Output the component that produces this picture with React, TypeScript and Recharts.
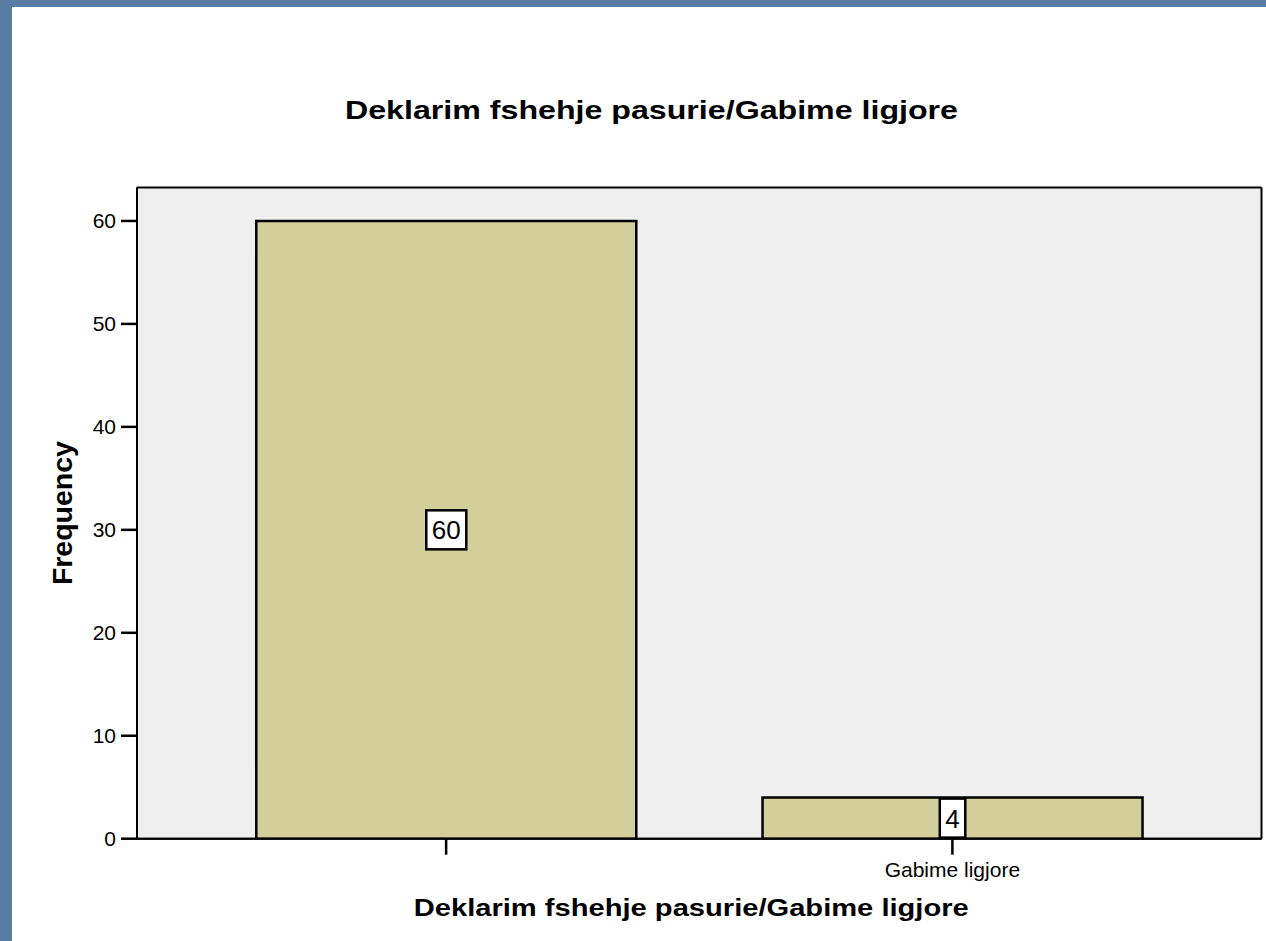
import { BarChart, Bar, XAxis, YAxis, CartesianGrid, LabelList, Label } from "recharts";

const categories = ["", "Gabime ligjore"];
const frequencies = [60, 4];
const yTicks = [0, 10, 20, 30, 40, 50, 60];
const yMax = 63.25;

const title = "Deklarim fshehje pasurie/Gabime ligjore";
const xTitle = "Deklarim fshehje pasurie/Gabime ligjore";
const yTitle = "Frequency";

const data = categories.map((name, i) => ({ name, value: frequencies[i] }));

const FONT = "'Liberation Sans', Arial, Helvetica, sans-serif";

// frame of the plot area: only its edges, taken from the chart's offset
const frameRows = ({ offset }: any) => [offset.top, offset.top + offset.height];
const frameCols = ({ offset }: any) => [offset.left, offset.left + offset.width];

function ValueBox(props: any) {
  const { x, y, width, height, value } = props;
  const cx = Number(x) + Number(width) / 2;
  const cy = Number(y) + Number(height) / 2;
  const txt = String(value);
  const w = txt.length * 14.5 + 11;
  const h = 39;
  return (
    <g>
      <rect x={cx - w / 2} y={cy - h / 2} width={w} height={h} fill="#fff" stroke="#000" strokeWidth={2.5} />
      <text x={cx} y={cy + 9.5} textAnchor="middle" fontSize={26} fontFamily={FONT} fill="#000">
        {txt}
      </text>
    </g>
  );
}

function YTitle(props: any) {
  const vb = props.viewBox || { x: 57, y: 187.5, width: 80, height: 651 };
  const bx = vb.x + 15;
  const cy = vb.y + vb.height / 2;
  return (
    <text
      x={bx}
      y={cy}
      transform={`rotate(-90, ${bx}, ${cy})`}
      textAnchor="middle"
      fontSize={28}
      fontWeight="bold"
      fontFamily={FONT}
      fill="#000"
      textLength={144}
      lengthAdjust="spacingAndGlyphs"
    >
      {yTitle}
    </text>
  );
}

function XTitle(props: any) {
  const vb = props.viewBox || { x: 137, y: 838.7, width: 1124.5, height: 60 };
  return (
    <text
      x={vb.x + vb.width / 2 - 8}
      y={vb.y + 77}
      textAnchor="middle"
      fontSize={23}
      fontWeight="bold"
      fontFamily={FONT}
      fill="#000"
      textLength={555}
      lengthAdjust="spacingAndGlyphs"
    >
      {xTitle}
    </text>
  );
}

export default function App() {
  return (
    <div style={{ position: "absolute", left: 0, top: 0, width: 1266, height: 941, background: "#587ca4", overflow: "hidden" }}>
      <div style={{ position: "absolute", left: 12, top: 7, width: 1254, height: 934, background: "#fff" }} />
      <svg width={1266} height={941} style={{ position: "absolute", left: 0, top: 0 }}>
        <text
          x={651.5}
          y={119}
          textAnchor="middle"
          fontSize={26}
          fontWeight="bold"
          fontFamily={FONT}
          fill="#000"
          textLength={613}
          lengthAdjust="spacingAndGlyphs"
        >
          {title}
        </text>
      </svg>
      <div style={{ position: "absolute", left: 0, top: 0 }}>
        <BarChart
          width={1266}
          height={941}
          data={data}
          margin={{ top: 187.5, right: 4.5, left: 57, bottom: 42.3 }}
          barCategoryGap="12.5%"
        >
          <CartesianGrid
            fill="#efefef"
            stroke="#000"
            strokeWidth={2}
            horizontalCoordinatesGenerator={frameRows}
            verticalCoordinatesGenerator={frameCols}
          />
          <XAxis
            dataKey="name"
            padding={{ left: 56, right: 56 }}
            height={60}
            axisLine={{ stroke: "#000", strokeWidth: 2 }}
            tickLine={{ stroke: "#000", strokeWidth: 2.5 }}
            tickSize={16}
            tickMargin={7}
            tick={{ fill: "#000", fontSize: 21, fontFamily: FONT }}
          >
            <Label content={<XTitle />} />
          </XAxis>
          <YAxis
            width={80}
            domain={[0, yMax]}
            ticks={yTicks}
            allowDataOverflow
            axisLine={{ stroke: "#000", strokeWidth: 2 }}
            tickLine={{ stroke: "#000", strokeWidth: 2.5 }}
            tickSize={16}
            tickMargin={5}
            tick={{ fill: "#000", fontSize: 21, fontFamily: FONT }}
          >
            <Label content={<YTitle />} />
          </YAxis>
          <Bar dataKey="value" fill="#d3cf9a" stroke="#000" strokeWidth={2.5} isAnimationActive={false}>
            <LabelList dataKey="value" content={<ValueBox />} />
          </Bar>
        </BarChart>
      </div>
    </div>
  );
}
